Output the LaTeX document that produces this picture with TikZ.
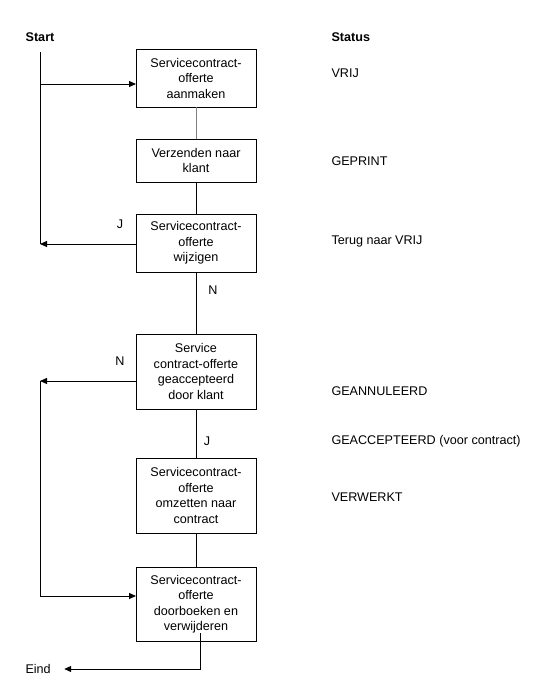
\documentclass[tikz,border=0pt]{standalone}
\usepackage{fontspec}
\setmainfont{Liberation Sans}
\usetikzlibrary{arrows.meta, positioning}

\begin{document}
\begin{tikzpicture}[x=1pt, y=-1pt, node distance=32pt, line width=1pt,
  every node/.style={align=center, font=\fontsize{12.6}{15.5}\selectfont},
  stepbox/.style={draw, rectangle, minimum width=120pt, inner sep=2pt, outer sep=0pt},
  flow/.style={-{Triangle[length=7pt, width=6pt]}},
  statustext/.style={anchor=west, inner sep=0pt}]
\useasboundingbox (0,0) rectangle (551,696);
% boxes
\node (Create) [stepbox, minimum height=58pt] at (196,78) {Servicecontract-\\offerte\\aanmaken};
\node (Send) [stepbox, minimum height=43pt, below=32pt of Create] {Verzenden naar\\klant};
\node (Edit) [stepbox, minimum height=58pt, below=32pt of Send] {Servicecontract-\\offerte\\wijzigen};
\node (Accept) [stepbox, minimum height=75pt, below=62pt of Edit] {Service\\contract-offerte\\geaccepteerd\\door klant};
\node (Convert) [stepbox, minimum height=75pt, below=49pt of Accept] {Servicecontract-\\offerte\\omzetten naar\\contract};
\node (Book) [stepbox, minimum height=74pt, below=34pt of Convert] {Servicecontract-\\offerte\\doorboeken en\\verwijderen};
% start and end
\node (Start) [font=\fontsize{12.6}{15.5}\selectfont\bfseries] at (40,37) {Start};
\node (Eind) [anchor=west, inner sep=0pt] at (25,669) {Eind};
\coordinate (StartLine) at (40,52);
\coordinate (LoopTop) at (40,244);
\coordinate (LoopIn) at (40,84);
\coordinate (EditOut) at (136,244);
\coordinate (RejectOut) at (136,381);
\coordinate (RejectLeft) at (40,381);
\coordinate (RejectDown) at (40,596);
\coordinate (EndOut) at (200,633);
% status column
\node (Status) [statustext, font=\fontsize{12.6}{15.5}\selectfont\bfseries] at (331,37) {Status};
\node (Vrij) [statustext] at (331,73) {VRIJ};
\node (Geprint) [statustext] at (331,161) {GEPRINT};
\node (Terug) [statustext] at (331,241) {Terug naar VRIJ};
\node (Geannuleerd) [statustext] at (331,391) {GEANNULEERD};
\node (Geaccepteerd) [statustext] at (331,441) {GEACCEPTEERD (voor contract)};
\node (Verwerkt) [statustext] at (331,497) {VERWERKT};
% J/N labels
\node (EditYes) at (120,224) {J};
\node (EditNo) at (213,290) {N};
\node (AcceptNo) at (120,361) {N};
\node (AcceptYes) at (207,441) {J};
% connectors
\draw (StartLine) -- (LoopTop);
\draw[flow] (LoopIn) -- (LoopIn -| Create.west);
\draw[gray] (Create) -- (Send);
\draw (Send) -- (Edit);
\draw[flow] (EditOut) -- (LoopTop);
\draw (Edit) -- (Accept);
\draw[flow] (RejectOut) -- (RejectLeft);
\draw[flow] (RejectLeft) -- (RejectDown) -- (RejectDown -| Book.west);
\draw (Accept) -- (Convert);
\draw (Convert) -- (Book);
\draw[flow, shorten >=13pt] (EndOut) -- (EndOut |- Eind.east) -- (Eind.east);
\end{tikzpicture}
\end{document}
